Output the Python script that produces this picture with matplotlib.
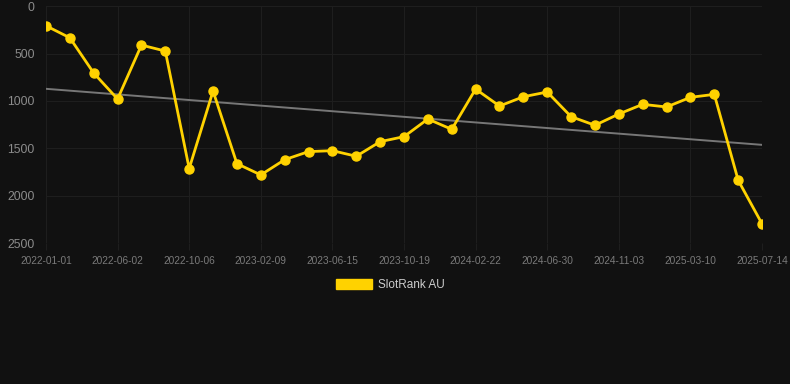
import numpy as np
import matplotlib.pyplot as plt
from matplotlib.patches import Patch

# dates of each sample (category axis, every third one is labelled)
dates = [
    "2022-01-01", "2022-02-20", "2022-04-11",
    "2022-06-02", "2022-07-14", "2022-08-25",
    "2022-10-06", "2022-11-17", "2022-12-29",
    "2023-02-09", "2023-03-23", "2023-05-04",
    "2023-06-15", "2023-07-27", "2023-09-07",
    "2023-10-19", "2023-11-30", "2024-01-11",
    "2024-02-22", "2024-04-05", "2024-05-18",
    "2024-06-30", "2024-08-11", "2024-09-22",
    "2024-11-03", "2024-12-15", "2025-01-26",
    "2025-03-10", "2025-04-21", "2025-06-02",
    "2025-07-14",
]
rank = [
    207, 334, 706, 980, 411, 474, 1714, 896, 1662, 1781,
    1620, 1535, 1525, 1584, 1430, 1377, 1191, 1300, 875, 1054,
    956, 906, 1166, 1257, 1138, 1036, 1064, 962, 931, 1837,
    2297,
]
series_name = "SlotRank AU"
y_ticks = [0, 500, 1000, 1500, 2000, 2500]

bg = "#111111"
gold = "#FFD200"
grid_col = "#1e1e1e"

plt.rcParams["font.family"] = ["Liberation Sans", "DejaVu Sans"]

x = np.arange(len(rank))
slope, intercept = np.polyfit(x, rank, 1)
trend = slope * x + intercept

fig = plt.figure(figsize=(7.9, 3.84), dpi=100, facecolor=bg)
ax = fig.add_axes([0.0582, 0.367, 0.9064, 0.617])
ax.set_facecolor(bg)

ax.plot(x, trend, color="#777777", lw=1.4, zorder=2)
ax.plot(x, rank, color=gold, lw=2.0, marker="o", markersize=6.5, zorder=3)

ax.set_xlim(0, len(rank) - 1)
ax.set_ylim(2500, 0)
ax.set_yticks(y_ticks)
ax.set_xticks(x[::3])
ax.set_xticklabels(dates[::3])

ax.grid(True, color=grid_col, lw=0.8)
for s in ax.spines.values():
    s.set_visible(False)
ax.tick_params(axis="y", length=0, pad=8, labelsize=8.8, colors="#8c8c8c")
ax.tick_params(axis="x", length=5, width=0.8, color=grid_col, pad=4,
               labelsize=7.3, labelcolor="#7a7a7a")

handles = [Patch(facecolor=gold, edgecolor=gold)]
fig.legend(handles, [series_name], loc="center", bbox_to_anchor=(0.494, 0.258),
           frameon=False, fontsize=8.5, labelcolor="#cccccc",
           handlelength=3.0, handleheight=0.9, handletextpad=0.5)

fig.savefig("out.png", dpi=100, facecolor=bg)
